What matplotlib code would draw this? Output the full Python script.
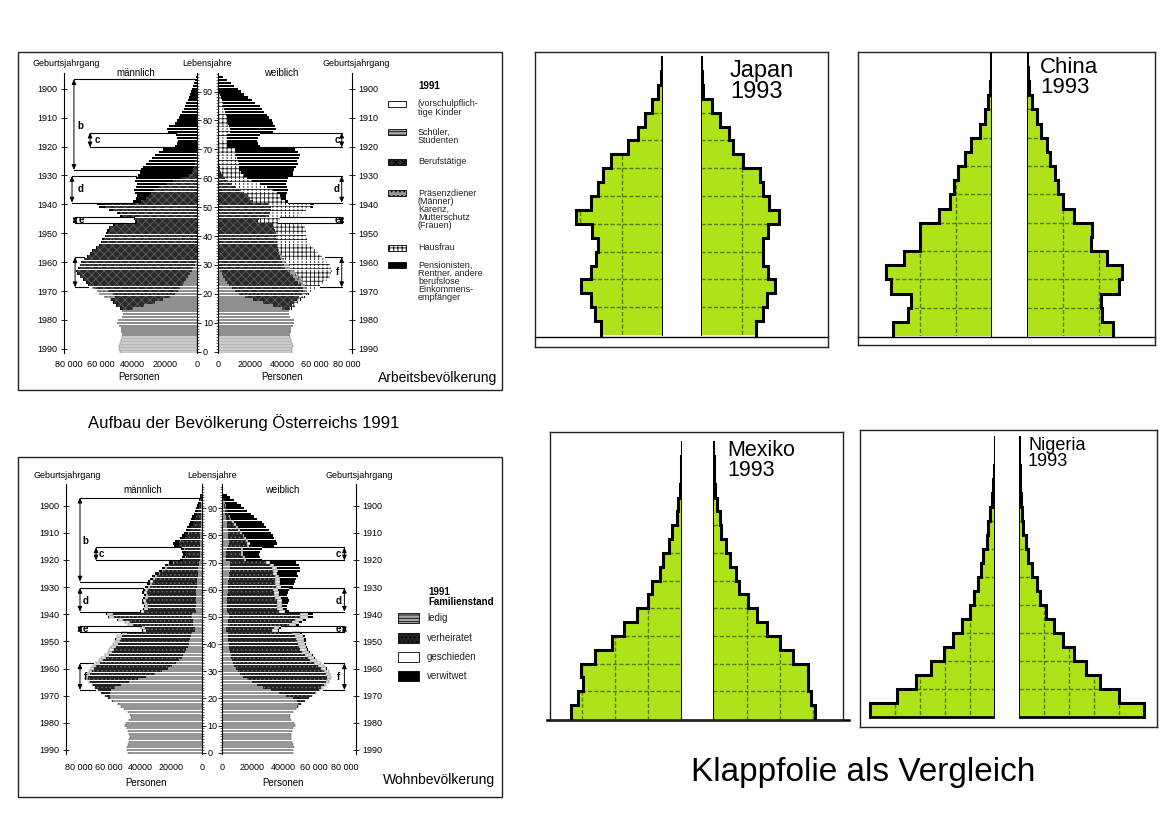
import numpy as np
import matplotlib
matplotlib.use("Agg")
import matplotlib.pyplot as plt
from matplotlib.patches import Rectangle
from matplotlib.ticker import MultipleLocator

plt.rcParams['font.family'] = ['Liberation Sans', 'DejaVu Sans']
plt.rcParams['hatch.linewidth'] = 0.6

W, H = 1169, 827

# ======================= DATA =======================
# Austria 1991, population per single year of age (thousands)
ages = np.arange(96)
m_total = np.array([
    48.0, 48.3, 48.6, 48.0, 47.4, 47.0, 46.8, 47.2, 47.6, 48.4,
    49.6, 49.2, 47.0, 46.0, 46.4, 48.0, 50.4, 52.0, 54.0, 58.0,
    61.0, 62.5, 65.0, 67.5, 69.0, 71.0, 73.0, 74.5, 75.0, 74.0,
    73.0, 72.0, 70.5, 68.5, 66.5, 65.0, 63.0, 61.0, 60.0, 59.0,
    57.5, 56.5, 56.0, 55.0, 52.0, 38.5, 39.5, 48.0, 50.0, 55.0,
    61.0, 62.0, 40.0, 38.0, 37.5, 38.5, 39.0, 38.0, 37.5, 38.5,
    38.0, 36.5, 35.5, 35.0, 33.5, 32.0, 30.0, 28.0, 26.0, 24.0,
    21.0, 14.0, 12.5, 12.0, 12.5, 13.5, 18.0, 18.5, 17.5, 14.0,
    12.5, 11.5, 10.5, 9.5, 8.5, 7.5, 6.8, 6.0, 5.0, 4.3,
    3.6, 3.0, 2.4, 1.8, 1.3, 0.8])
f_total = np.array([
    46.0, 46.3, 46.6, 46.0, 45.4, 45.0, 44.8, 45.2, 45.6, 46.4,
    47.5, 47.2, 45.0, 44.2, 44.5, 46.0, 48.0, 49.5, 51.5, 54.0,
    56.5, 58.5, 61.0, 63.5, 65.5, 67.5, 69.5, 70.5, 71.0, 70.5,
    69.5, 68.0, 66.5, 64.5, 62.0, 60.5, 59.0, 57.0, 56.0, 55.5,
    55.0, 54.5, 54.5, 54.0, 52.0, 37.5, 38.5, 50.0, 52.0, 55.0,
    59.0, 59.5, 43.5, 42.5, 42.5, 43.0, 43.5, 43.0, 42.5, 43.0,
    43.5, 46.5, 47.0, 47.5, 48.5, 49.5, 49.0, 50.5, 51.0, 50.0,
    48.0, 26.0, 25.0, 24.5, 25.0, 26.0, 34.0, 36.0, 35.5, 34.0,
    33.5, 32.0, 30.5, 29.0, 27.5, 26.0, 23.0, 21.0, 19.0, 16.5,
    14.5, 12.5, 10.0, 8.0, 5.5, 3.5])

# Arbeitsbevoelkerung categories (thousands), lists start at the given age
m_schueler_15 = [40, 33, 26, 21, 17, 14, 12, 10.5, 9, 8, 7, 5.5, 4.5, 3.5, 2.5, 1.5, 1.0]
m_beruf_15 = [7.5, 17.0, 25.5, 32.5, 34.0,
              38.0, 43.0, 53.0, 58.0, 60.5, 63.5, 67.0, 69.5, 71.0, 71.0,
              71.0, 70.5, 70.0, 68.0, 66.0, 64.5, 62.5, 60.5, 59.0, 58.0,
              56.5, 55.5, 55.0, 54.0, 51.0, 37.5, 38.5, 46.5, 48.0, 52.5,
              57.0, 57.0, 35.0, 32.0, 30.0, 29.0, 27.5, 24.0, 19.0, 15.0,
              10.0, 6.0, 3.5, 2.5, 2.0, 1.5, 1.2, 1.0, 0.8, 0.6]
m_praesenz_18 = [0.5, 7.0, 9.0, 7.5, 1.5]
f_schueler_15 = [40, 34, 28, 22, 17, 13.5, 11, 9, 7, 5.5, 4.5, 3.5, 2.5, 1.5]
f_beruf_15 = [4.0, 12.0, 19.5, 27.0, 33.5,
              38.5, 42.0, 44.0, 44.5, 44.5, 43.5, 43.0, 42.5, 42.0, 42.0,
              41.0, 40.0, 39.0, 38.5, 38.0, 37.5, 37.0, 36.5, 36.5, 36.0,
              36.0, 36.0, 35.5, 35.0, 34.0, 25.0, 25.5, 32.0, 32.5, 33.0,
              33.0, 31.0, 22.0, 20.0, 18.5, 16.5, 14.5, 11.5, 9.0, 6.5,
              4.5, 3.0, 2.0, 1.5, 1.2, 1.0, 0.8, 0.7, 0.6, 0.5]
f_karenz_20 = [1.0, 1.5, 2.0, 2.5, 3.0, 3.5, 3.5, 3.5, 3.5, 3.0, 3.0, 2.5, 2.0, 1.5, 1.0, 0.5]
f_hausfrau_15 = [1.5, 1.8, 2.0, 2.3, 3.3,
                 3.3, 4.0, 6.0, 9.5, 12.5, 16.0, 19.5, 22.0, 24.0, 25.5,
                 25.5, 25.5, 25.5, 24.5, 23.0, 22.5, 22.0, 20.5, 19.5, 19.5,
                 19.0, 18.5, 19.0, 19.0, 18.0, 12.5, 13.0, 18.0, 19.5, 21.5,
                 25.0, 27.0, 19.5, 19.5, 20.0, 20.0, 20.0, 19.0, 17.0, 15.0,
                 13.5, 13.0, 12.5, 12.0, 12.0, 12.0, 11.5, 11.5, 11.0, 11.0,
                 10.5, 6.0, 5.5, 5.5, 5.5, 6.0, 7.5, 7.5, 7.0, 6.5,
                 6.0, 5.5, 5.0, 4.5, 4.0, 3.5, 3.0, 2.5, 2.0, 1.5,
                 1.0, 0.8, 0.5, 0.3, 0.2, 0.1]

# Wohnbevoelkerung (Familienstand) categories (thousands)
m_ledig_18 = [53.8, 57.5,
              59.5, 59.5, 59.5, 58.5, 56.0, 52.0, 47.0, 41.5, 36.0, 30.5,
              26.0, 22.0, 19.0, 16.5, 14.5, 13.0, 12.0, 11.0, 10.0, 9.0,
              8.5, 8.0, 7.5, 7.0, 6.5, 4.5, 4.5, 5.5, 5.5, 5.5,
              6.0, 6.0, 4.0, 4.2, 4.0, 4.0, 4.0, 3.8, 3.6, 3.6,
              3.5, 3.3, 3.2, 3.0, 2.9, 2.7, 2.5, 2.3, 2.1, 1.9,
              1.7, 1.1, 1.0, 1.0, 1.0, 1.1, 1.4, 1.4, 1.3, 1.1,
              1.0, 0.9, 0.8, 0.7, 0.6, 0.6, 0.5, 0.5, 0.4, 0.3,
              0.3, 0.2, 0.2, 0.1, 0.1, 0.1]
m_gesch_25 = [0.3, 0.5, 0.8, 1.0, 1.3,
              1.6, 1.9, 2.2, 2.4, 2.6, 2.8, 3.0, 3.0, 3.1, 3.2,
              3.2, 3.3, 3.3, 3.3, 3.2, 2.4, 2.4, 3.0, 3.1, 3.3,
              3.6, 3.6, 2.3, 2.2, 2.1, 2.1, 2.0, 1.9, 1.8, 1.8,
              1.7, 1.6, 1.5, 1.4, 1.3, 1.2, 1.1, 1.0, 0.9, 0.8,
              0.7, 0.4, 0.4, 0.3, 0.3, 0.3, 0.4, 0.4, 0.3, 0.3,
              0.2, 0.2, 0.2, 0.1, 0.1, 0.1, 0.1, 0.1, 0.1, 0.0,
              0, 0, 0, 0, 0, 0]
m_verw_40 = [0.2, 0.2, 0.3, 0.3, 0.3, 0.3, 0.3, 0.4, 0.5, 0.6,
             0.7, 0.8, 0.6, 0.7, 0.8, 0.9, 1.0, 1.1, 1.2, 1.4,
             1.5, 1.6, 1.7, 1.8, 1.9, 2.0, 2.1, 2.2, 2.3, 2.3,
             2.4, 1.7, 1.7, 1.8, 2.0, 2.3, 3.2, 3.5, 3.5, 3.0,
             2.9, 2.9, 2.8, 2.7, 2.6, 2.5, 2.4, 2.2, 2.0, 1.8,
             1.6, 1.4, 1.2, 0.9, 0.7, 0.5]
f_ledig_16 = [47.9, 49.0, 49.5, 49.0,
              46.0, 42.0, 37.0, 32.0, 27.0, 23.0, 19.5, 16.5, 14.0, 12.0,
              10.5, 9.2, 8.2, 7.4, 6.8, 6.2, 5.8, 5.4, 5.0, 4.8,
              4.6, 4.4, 4.3, 4.2, 4.0, 2.9, 3.0, 3.8, 4.0, 4.3,
              4.6, 4.7, 3.5, 3.5, 3.5, 3.6, 3.7, 3.7, 3.7, 3.8,
              3.9, 4.2, 4.3, 4.4, 4.6, 4.8, 4.9, 5.1, 5.3, 5.3,
              5.2, 3.0, 2.9, 2.9, 3.0, 3.2, 4.2, 4.5, 4.5, 4.3,
              4.2, 4.0, 3.8, 3.6, 3.4, 3.2, 2.9, 2.6, 2.4, 2.1,
              1.8, 1.6, 1.3, 1.0, 0.7, 0.5]
f_gesch_20 = [0.1, 0.2, 0.4, 0.6, 0.9, 1.2, 1.6, 2.0, 2.4, 2.8,
              3.2, 3.5, 3.8, 4.0, 4.2, 4.4, 4.5, 4.6, 4.7, 4.8,
              4.8, 4.9, 5.0, 5.0, 4.8, 3.5, 3.6, 4.6, 4.7, 4.9,
              5.2, 5.2, 3.7, 3.6, 3.5, 3.5, 3.5, 3.4, 3.3, 3.3,
              3.3, 3.4, 3.4, 3.3, 3.3, 3.2, 3.1, 3.0, 2.9, 2.8,
              2.6, 1.4, 1.3, 1.2, 1.2, 1.2, 1.5, 1.5, 1.4, 1.3,
              1.2, 1.1, 1.0, 0.9, 0.8, 0.7, 0.6, 0.5, 0.4, 0.3,
              0.3, 0.2, 0.2, 0.1, 0.1, 0.0]
f_verw_30 = [0.2, 0.2, 0.3, 0.3, 0.4, 0.4, 0.5, 0.6, 0.7, 0.8,
             0.9, 1.0, 1.1, 1.2, 1.3, 1.1, 1.2, 1.7, 2.0, 2.4,
             2.9, 3.3, 2.7, 3.0, 3.4, 3.8, 4.3, 4.8, 5.3, 6.0,
             6.8, 8.0, 8.9, 9.8, 10.8, 12.0, 12.8, 14.0, 15.2, 16.0,
             16.8, 10.0, 10.2, 10.5, 11.2, 12.0, 16.2, 17.8, 18.3, 18.2,
             18.8, 18.8, 18.7, 18.6, 18.4, 18.3, 16.8, 15.8, 14.6, 12.9,
             11.5, 10.0, 8.1, 6.5, 4.5, 2.9]

age_ticks = list(range(0, 91, 10))
birth_years = list(range(1900, 1991, 10))
xt_m = [80, 60, 40, 20, 0]
xl_m = ["80 000", "60 000", "40000", "20000", "0"]
xt_f = [0, 20, 40, 60, 80]
xl_f = ["0", "20000", "40000", "60 000", "80 000"]

# Comparison pyramids 1993, share of population (%) per 5-year age group 0-4 ... 95-99
group_edges = np.arange(0, 101, 5)
japan_m = [3.0, 3.3, 3.5, 3.95, 3.5, 3.25, 3.15, 3.45, 4.2, 3.5, 3.15, 2.9, 2.5, 1.7, 1.2, 0.9, 0.55, 0.25, 0.12, 0.05]
japan_f = [2.67, 2.98, 3.17, 3.59, 3.22, 2.98, 2.98, 3.22, 3.78, 3.3, 2.98, 2.83, 2.03, 1.56, 1.37, 0.92, 0.52, 0.13, 0.06, 0.03]
china_m = [5.5, 4.65, 4.5, 5.6, 5.9, 4.85, 4.0, 4.0, 2.95, 2.3, 2.1, 1.9, 1.5, 1.15, 0.65, 0.4, 0.2, 0.1, 0.05, 0.02]
china_f = [4.8, 4.2, 4.1, 5.1, 5.3, 4.45, 3.55, 3.65, 2.65, 2.0, 1.75, 1.55, 1.3, 1.1, 0.8, 0.55, 0.3, 0.13, 0.05, 0.02]
mexico_m = [6.63, 6.22, 5.92, 6.02, 5.2, 4.18, 3.47, 2.69, 2.04, 1.8, 1.33, 1.12, 0.78, 0.61, 0.31, 0.2, 0.1, 0.04, 0.02, 0.01]
mexico_f = [6.08, 5.88, 5.69, 5.69, 4.8, 4.02, 3.24, 2.65, 2.06, 1.57, 1.37, 0.98, 0.78, 0.49, 0.39, 0.2, 0.1, 0.04, 0.02, 0.01]
nigeria_m = [10.0, 7.87, 6.32, 5.12, 4.05, 3.33, 2.67, 2.0, 1.68, 1.33, 1.12, 0.93, 0.67, 0.53, 0.4, 0.27, 0.13, 0.05, 0.03, 0.01]
nigeria_f = [10.0, 7.97, 6.45, 5.33, 4.4, 3.52, 2.8, 2.11, 1.65, 1.39, 0.99, 0.72, 0.51, 0.32, 0.19, 0.11, 0.05, 0.03, 0.01, 0.01]

# ======================= FIGURE =======================
fig = plt.figure(figsize=(W / 100, H / 100), dpi=100)
fig.patch.set_facecolor('white')


def px_axes(x0, y0, x1, y1):
    ax = fig.add_axes([x0 / W, 1 - y1 / H, (x1 - x0) / W, (y1 - y0) / H])
    ax.set_facecolor('none')
    return ax


def ftext(x, y, s, **kw):
    return fig.text(x / W, 1 - y / H, s, **kw)


def frame(x0, y0, x1, y1, lw=1.0):
    fig.add_artist(Rectangle((x0 / W, 1 - y1 / H), (x1 - x0) / W, (y1 - y0) / H,
                             transform=fig.transFigure, fill=False,
                             edgecolor='#222222', linewidth=lw))


def span(start, vals):
    out = np.zeros(96)
    out[start:start + len(vals)] = vals
    return out


def rest(total, parts):
    return np.clip(total - np.sum(parts, axis=0), 0, None)


ST_KIND = dict(facecolor='#f2f2f2', edgecolor='#555555', linewidth=0.35)
ST_SCHUEL = dict(facecolor='#8f8f8f', edgecolor='#8f8f8f', linewidth=0)
ST_BERUF = dict(facecolor='#2a2a2a', edgecolor='#5c5c5c', hatch='xxxx', linewidth=0)
ST_PRAES = dict(facecolor='#9a9a9a', edgecolor='#444444', hatch='....', linewidth=0)
ST_HAUS = dict(facecolor='white', edgecolor='#1e1e1e', hatch='++++', linewidth=0)
ST_PENS = dict(facecolor='black', edgecolor='black', linewidth=0)
ST_LEDIG = dict(facecolor='#969696', edgecolor='#969696', linewidth=0)
ST_VERH = dict(facecolor='#222222', edgecolor='#6a6a6a', hatch='....', linewidth=0)
ST_GESCH = dict(facecolor='white', edgecolor='#555555', linewidth=0.35)
ST_VERW = dict(facecolor='black', edgecolor='black', linewidth=0)

# ---- layers, top chart (Arbeitsbevoelkerung)
kind_m = np.where(ages <= 5, m_total, 0.0)
schuel_m = np.where((ages >= 6) & (ages <= 14), m_total, 0.0) + span(15, m_schueler_15)
beruf_m = span(15, m_beruf_15)
praes_m = span(18, m_praesenz_18)
pens_m = rest(m_total, [kind_m, schuel_m, beruf_m, praes_m])
layers_top_m = [(kind_m, ST_KIND), (schuel_m, ST_SCHUEL), (beruf_m, ST_BERUF),
                (praes_m, ST_PRAES), (pens_m, ST_PENS)]

kind_f = np.where(ages <= 5, f_total, 0.0)
schuel_f = np.where((ages >= 6) & (ages <= 14), f_total, 0.0) + span(15, f_schueler_15)
beruf_f = span(15, f_beruf_15)
karenz_f = span(20, f_karenz_20)
haus_f = span(15, f_hausfrau_15)
pens_f = rest(f_total, [kind_f, schuel_f, beruf_f, karenz_f, haus_f])
layers_top_f = [(kind_f, ST_KIND), (schuel_f, ST_SCHUEL), (beruf_f, ST_BERUF),
                (karenz_f, ST_PRAES), (haus_f, ST_HAUS), (pens_f, ST_PENS)]

# ---- layers, bottom chart (Wohnbevoelkerung)
ledig_m = np.where(ages <= 17, m_total, 0.0) + span(18, m_ledig_18)
gesch_m = span(25, m_gesch_25)
verw_m = span(40, m_verw_40)
verh_m = rest(m_total, [ledig_m, gesch_m, verw_m])
layers_bot_m = [(ledig_m, ST_LEDIG), (verh_m, ST_VERH), (gesch_m, ST_GESCH), (verw_m, ST_VERW)]

ledig_f = np.where(ages <= 15, f_total, 0.0) + span(16, f_ledig_16)
gesch_f = span(20, f_gesch_20)
verw_f = span(30, f_verw_30)
verh_f = rest(f_total, [ledig_f, gesch_f, verw_f])
layers_bot_f = [(ledig_f, ST_LEDIG), (verh_f, ST_VERH), (gesch_f, ST_GESCH), (verw_f, ST_VERW)]


def stack(ax, layers, h=0.82):
    left = np.zeros(96)
    for vals, st in layers:
        ax.barh(ages, vals, left=left, height=h, **st)
        left = left + vals


def brackets(ax, total, specs):
    for lab, xb, a_lo, a_hi, xl, yl in specs:
        e_hi = total[int(np.floor(a_hi))]
        e_lo = total[int(np.ceil(a_lo))]
        ax.plot([xb, e_hi], [a_hi, a_hi], color='k', lw=0.8, clip_on=False, zorder=4)
        ax.plot([xb, e_lo], [a_lo, a_lo], color='k', lw=0.8, clip_on=False, zorder=4)
        ax.annotate('', xy=(xb, a_hi), xytext=(xb, a_lo), zorder=4,
                    arrowprops=dict(arrowstyle='<|-|>,head_length=0.5,head_width=0.22',
                                    lw=0.7, color='k', shrinkA=0, shrinkB=0,
                                    mutation_scale=6))
        if lab:
            ax.text(xl, yl, lab, fontsize=7, fontweight='bold', ha='center',
                    va='center', clip_on=False, zorder=5)


def austria(cfg, lm, lf, br_m, br_f):
    a0, ppy = cfg['age0'], cfg['ppy']
    ylo, yhi = cfg['ylim']
    top = a0 - ppy * yhi
    bot = a0 - ppy * ylo
    axm = px_axes(cfg['m80'], top, cfg['m0'], bot)
    axf = px_axes(cfg['f0'], top, cfg['f80'], bot)
    axm.set_xlim(80, 0)
    axf.set_xlim(0, 80)
    for ax in (axm, axf):
        ax.set_ylim(ylo, yhi)
        for s in ax.spines.values():
            s.set_visible(False)
        ax.tick_params(axis='x', length=0, labelsize=6.5, pad=cfg['xpad'])
        ax.yaxis.set_minor_locator(MultipleLocator(1))
        ax.set_yticks(age_ticks)
    stack(axm, lm)
    stack(axf, lf)
    axm.set_xticks(xt_m)
    axm.set_xticklabels(xl_m)
    axf.set_xticks(xt_f)
    axf.set_xticklabels(xl_f)
    axm.spines['right'].set_visible(True)
    axm.spines['right'].set_linewidth(0.8)
    axm.yaxis.tick_right()
    axm.tick_params(axis='y', which='major', direction='out', length=3, width=0.6,
                    labelsize=6.5, pad=1)
    axm.tick_params(axis='y', which='minor', direction='out', length=1.6, width=0.4)
    axf.spines['left'].set_visible(True)
    axf.spines['left'].set_linewidth(0.8)
    axf.tick_params(axis='y', which='major', direction='out', length=3, width=0.6,
                    labelleft=False)
    axf.tick_params(axis='y', which='minor', direction='out', length=1.6, width=0.4)
    brackets(axm, m_total, br_m)
    brackets(axf, f_total, br_f)
    # birth-year axes
    for x, side in ((cfg['yl_x'], 'left'), (cfg['yr_x'], 'right')):
        ay = px_axes(x, top, x + 1, bot) if side == 'left' else px_axes(x - 1, top, x, bot)
        ay.set_ylim(1991 - ylo, 1991 - yhi)
        for s in ay.spines.values():
            s.set_visible(False)
        ay.spines[side].set_visible(True)
        ay.spines[side].set_linewidth(0.8)
        ay.set_xticks([])
        ay.set_yticks(birth_years)
        if side == 'left':
            ay.yaxis.tick_left()
        else:
            ay.yaxis.tick_right()
        ay.tick_params(axis='y', direction='inout', length=5, width=0.6,
                       labelsize=6.5, pad=2)
    # header texts
    hy, sy, py = cfg['hy'], cfg['sy'], cfg['py']
    ftext(cfg['yl_x'] + 2, hy, "Geburtsjahrgang", ha='center', va='center', fontsize=6.5)
    ftext(cfg['yr_x'] + 4, hy, "Geburtsjahrgang", ha='center', va='center', fontsize=6.5)
    ftext((cfg['m0'] + cfg['f0']) / 2, hy, "Lebensjahre", ha='center', va='center', fontsize=6.5)
    ftext((cfg['m0'] + cfg['m80']) / 2 + 3, sy, "männlich", ha='center', va='center', fontsize=7)
    ftext((cfg['f0'] + cfg['f80']) / 2 - 1, sy, "weiblich", ha='center', va='center', fontsize=7)
    ftext((cfg['m0'] + cfg['m80']) / 2 + 6, py, "Personen", ha='center', va='center', fontsize=7)
    ftext((cfg['f0'] + cfg['f80']) / 2, py, "Personen", ha='center', va='center', fontsize=7)


# ---------------- top chart: Arbeitsbevoelkerung
frame(17.7, 51.7, 501.7, 390)
cfg_top = dict(age0=351.7, ppy=2.89, ylim=(-0.6, 96.5), m80=68.3, m0=197.3,
               f0=217.7, f80=346.7, yl_x=64.0, yr_x=352.3, xpad=4.5,
               hy=64, sy=73, py=377)
br_top_m = [('b', 76.5, 62.9, 94.3, 72.7, 78.1),
            ('c', 66.5, 70.7, 75.8, 62.2, 73.3),
            ('d', 77.7, 51.6, 60.8, 72.7, 56.3),
            ('e', 75.8, 44.4, 46.6, 72.0, 45.5),
            ('', 75.8, 22.3, 32.7, 72.7, 27.6)]
br_top_f = [('c', 76.9, 70.7, 75.8, 74.0, 73.3),
            ('d', 76.9, 51.6, 60.8, 74.0, 56.3),
            ('e', 76.9, 44.4, 46.6, 74.0, 45.5),
            ('f', 76.9, 22.3, 32.7, 74.0, 27.6)]
austria(cfg_top, layers_top_m, layers_top_f, br_top_m, br_top_f)
ftext(497, 378, "Arbeitsbevölkerung", ha='right', va='center', fontsize=10)


# legend top
def swatch(x0, yc, w, h, st):
    fig.add_artist(Rectangle((x0 / W, 1 - (yc + h / 2) / H), w / W, h / H,
                             transform=fig.transFigure, facecolor=st['facecolor'],
                             hatch=st.get('hatch'), edgecolor='black', linewidth=0.6))


ftext(418, 86, "1991", ha='left', va='center', fontsize=7, fontweight='bold')
leg_top = [(dict(facecolor='white'), 104, "(vorschulpflich-\ntige Kinder"),
           (dict(facecolor='#a9a9a9', hatch='-----'), 132, "Schüler,\nStudenten"),
           (ST_BERUF, 162, "Berufstätige"),
           (ST_PRAES, 193, "Präsenzdiener\n(Männer)\nKarenz,\nMutterschutz\n(Frauen)"),
           (ST_HAUS, 248, "Hausfrau"),
           (ST_PENS, 265, "Pensionisten,\nRentner, andere\nberufslose\nEinkommens-\nempfänger")]
for st, yc, lab in leg_top:
    swatch(388, yc, 18, 6, st)
    ftext(418, yc - 4.5, lab, ha='left', va='top', fontsize=6.5, linespacing=0.88,
          color='#222222')

# ---------------- bottom chart: Wohnbevoelkerung
frame(17.7, 456.7, 502.3, 796.7)
cfg_bot = dict(age0=752.7, ppy=2.716, ylim=(-0.6, 98.8), m80=78.3, m0=201.7,
               f0=221.7, f80=345.0, yl_x=65.7, yr_x=355.7, xpad=6,
               hy=476, sy=490, py=783)
br_bot_m = [('b', 78.9, 63.0, 93.9, 75.6, 77.9),
            ('c', 68.5, 70.8, 75.6, 64.8, 73.2),
            ('d', 78.9, 51.9, 60.7, 75.6, 56.0),
            ('e', 78.9, 44.3, 46.7, 75.6, 45.5),
            ('f', 78.9, 23.1, 32.9, 75.6, 28.0)]
br_bot_f = [('c', 79.6, 70.8, 75.6, 75.5, 73.2),
            ('d', 79.6, 51.9, 60.7, 75.5, 56.0),
            ('e', 79.6, 44.3, 46.7, 75.5, 45.5),
            ('f', 79.6, 23.1, 32.9, 75.5, 28.0)]
austria(cfg_bot, layers_bot_m, layers_bot_f, br_bot_m, br_bot_f)
ftext(495, 780, "Wohnbevölkerung", ha='right', va='center', fontsize=10)

ftext(428, 587, "1991\nFamilienstand", ha='left', va='top', fontsize=7,
      fontweight='bold', linespacing=0.95)
leg_bot = [(dict(facecolor='#a5a5a5', hatch='-----'), 618, "ledig"),
           (ST_VERH, 638, "verheiratet"),
           (ST_GESCH, 657, "geschieden"),
           (ST_VERW, 676, "verwitwet")]
for st, yc, lab in leg_bot:
    swatch(398, yc, 21, 10, st)
    ftext(427, yc, lab, ha='left', va='center', fontsize=7, color='#222222')

ftext(244, 423, "Aufbau der Bevölkerung Österreichs 1991", ha='center', va='center',
      fontsize=12)

# ---------------- comparison pyramids
GREEN = '#aee31a'
GRID = '#4f7d0a'


def half(ax, vals, ctop, base_edge):
    ys = np.repeat(group_edges, 2)[1:-1]
    xs = np.repeat(np.asarray(vals, float), 2)
    px = np.concatenate([[0], xs, [0]])
    py = np.concatenate([[0], ys, [group_edges[-1]]])
    patch = ax.fill(px, py, color=GREEN, lw=0, zorder=1)[0]
    for a in range(10, 100, 10):
        ln = ax.axhline(a, color=GRID, ls=(0, (3, 1.5)), lw=1.0, zorder=2)
        ln.set_clip_path(patch)
    for v in range(2, 12, 2):
        ln = ax.axvline(v, color=GRID, ls=(0, (3, 1.5)), lw=1.0, zorder=2)
        ln.set_clip_path(patch)
    ax.plot(xs, ys, color='black', lw=2.2, solid_joinstyle='miter', zorder=3)
    ax.plot([0, 0], [0, ctop], color='black', lw=1.4, zorder=3)
    if base_edge:
        ax.plot([0, xs[0]], [0, 0], color='black', lw=2.0, zorder=3)


def green_panel(fr, mc, fc, base, ppy, ppp, mv, fv, ctop, title, txy, tsize,
                baseline=None, base_edge=False):
    x0, y0, x1, y1 = fr
    bg = px_axes(x0, y0, x1, y1)
    bg.set_xlim(x0, x1)
    bg.set_ylim(y1, y0)
    bg.set_xticks([])
    bg.set_yticks([])
    for s in bg.spines.values():
        s.set_linewidth(1.0)
        s.set_edgecolor('#222222')
    a_bot = (base - y1) / ppy
    a_top = (base - y0) / ppy
    axm = px_axes(x0, y0, mc, y1)
    axm.set_xlim((mc - x0) / ppp, 0)
    axf = px_axes(fc, y0, x1, y1)
    axf.set_xlim(0, (x1 - fc) / ppp)
    for ax in (axm, axf):
        ax.set_ylim(a_bot, a_top)
        ax.axis('off')
    half(axm, mv, ctop, base_edge)
    half(axf, fv, ctop, base_edge)
    if baseline is not None:
        by, bx0, bx1, blw = baseline
        bg.plot([bx0, bx1], [by, by], color='black', lw=blw, clip_on=False)
    ftext(txy[0], txy[1], title, ha='left', va='top', fontsize=tsize, linespacing=0.95)


green_panel((535, 52, 828, 347), 663.3, 700.7, 335, 2.78, 20.8, japan_m, japan_f,
            98.5, "Japan\n1993", (730, 60), 17, baseline=(337.3, 535, 828, 1.0))
green_panel((858, 52, 1155, 345), 991.7, 1026.7, 336, 2.833, 18.0, china_m, china_f,
            99.2, "China\n1993", (1040, 57), 16, baseline=(336.7, 858, 1155, 1.0))
green_panel((550, 432, 843, 720), 681.7, 713.3, 719, 2.767, 16.67, mexico_m, mexico_f,
            100.2, "Mexiko\n1993", (727, 440), 15.5, baseline=(720, 547, 849, 1.8))
green_panel((860, 430, 1157, 727), 995, 1019.3, 716.7, 2.8, 12.5, nigeria_m, nigeria_f,
            99, "Nigeria\n1993", (1028, 437), 13, base_edge=True)

ftext(863, 772, "Klappfolie als Vergleich", ha='center', va='center', fontsize=24)

fig.savefig("out.png", dpi=100, facecolor='white')
